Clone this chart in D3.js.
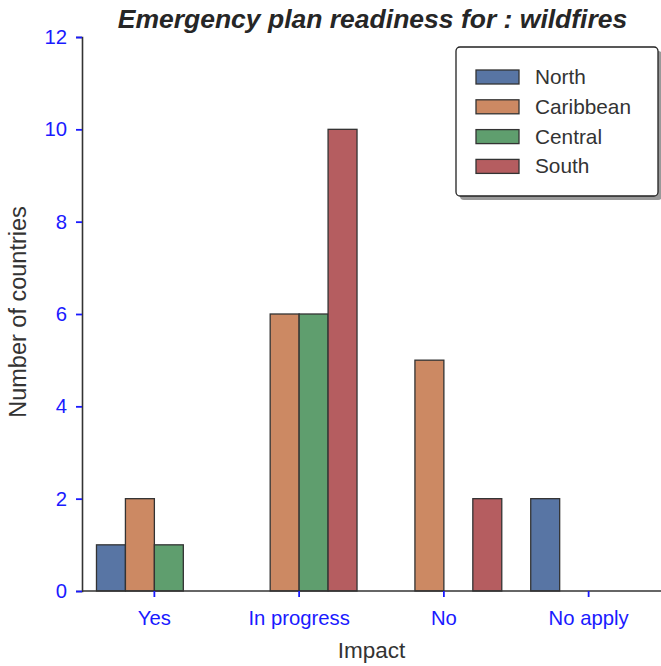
<!DOCTYPE html>
<html><head><meta charset="utf-8">
<script src="https://cdn.jsdelivr.net/npm/d3@7"></script>
<style>body{margin:0;background:#fff;} svg{font-family:"Liberation Sans",Arial,sans-serif;}</style>
</head><body>
<svg id="chart" width="661" height="666"></svg>
<script>
const categories = ["Yes", "In progress", "No", "No apply"];
const regions = ["North", "Caribbean", "Central", "South"];
const north = [1, 0, 0, 2];
const caribbean = [2, 6, 5, 0];
const central = [1, 6, 0, 0];
const south = [0, 10, 2, 0];
const yTicks = [0, 2, 4, 6, 8, 10, 12];
const colors = ["#5875A4", "#CC8963", "#5F9E6E", "#B55D60"];
const seriesValues = [north, caribbean, central, south];

const svg = d3.select("#chart");
const m = {left: 82, right: 661, top: 37, bottom: 591};

const x = d3.scaleBand().domain(categories).range([m.left, m.right]).padding(0);
const inner = d3.scaleBand().domain(regions).range([x.bandwidth()*0.1, x.bandwidth()*0.9]).padding(0);
const y = d3.scaleLinear().domain([0, 12]).range([m.bottom, m.top]);

// bars
regions.forEach((r, i) => {
  svg.append("g").selectAll("rect").data(categories.map((c, j) => ({c, v: seriesValues[i][j]})))
    .join("rect")
    .attr("x", d => x(d.c) + inner(r))
    .attr("y", d => y(d.v))
    .attr("width", inner.bandwidth())
    .attr("height", d => y(0) - y(d.v))
    .attr("fill", colors[i])
    .attr("stroke", d => d.v > 0 ? "#333" : "none")
    .attr("stroke-width", 1.3);
});

const tickFont = 20.3;
// y axis
const ya = svg.append("g").attr("transform", `translate(${m.left},0)`)
  .call(d3.axisLeft(y).tickValues(yTicks).tickSize(6).tickPadding(9));
ya.select(".domain").attr("stroke", "#333").attr("stroke-width", 1.6);
ya.selectAll(".tick line").attr("stroke", "#1a1aff").attr("stroke-width", 1.8);
ya.selectAll(".tick text").attr("fill", "#1a1aff").attr("font-size", tickFont).attr("font-family", "Liberation Sans, Arial, sans-serif");

// x axis
const xa = svg.append("g").attr("transform", `translate(0,${m.bottom})`)
  .call(d3.axisBottom(x).tickSize(6).tickPadding(14));
xa.select(".domain").attr("stroke", "#333").attr("stroke-width", 1.6).attr("d", `M${m.left},0H${m.right}`);
xa.selectAll(".tick line").attr("stroke", "#1a1aff").attr("stroke-width", 1.8);
xa.selectAll(".tick text").attr("fill", "#1a1aff").attr("font-size", tickFont).attr("font-family", "Liberation Sans, Arial, sans-serif");

// axis labels
svg.append("text").attr("x", (m.left + m.right) / 2).attr("y", 658).attr("text-anchor", "middle")
  .attr("font-size", 22.5).attr("fill", "#333").text("Impact");
svg.append("text").attr("transform", `translate(26,${(m.top + m.bottom) / 2 - 2}) rotate(-90)`).attr("text-anchor", "middle")
  .attr("font-size", 23.5).attr("fill", "#333").text("Number of countries");

// title
svg.append("text").attr("x", (m.left + m.right) / 2 + 1).attr("y", 28).attr("text-anchor", "middle")
  .attr("font-size", 26.5).attr("font-weight", "bold").attr("font-style", "italic").attr("fill", "#262626")
  .text("Emergency plan readiness for : wildfires");

// legend
const lg = svg.append("g");
lg.append("rect").attr("x", 460).attr("y", 51).attr("width", 202).attr("height", 149).attr("rx", 4)
  .attr("fill", "#555").attr("opacity", 0.6);
lg.append("rect").attr("x", 456).attr("y", 47).attr("width", 202).attr("height", 149).attr("rx", 4)
  .attr("fill", "#fff").attr("stroke", "#222").attr("stroke-width", 1.3);
regions.forEach((r, i) => {
  const yy = 77 + i * 29.8;
  lg.append("rect").attr("x", 476).attr("y", yy - 7).attr("width", 43).attr("height", 14)
    .attr("fill", colors[i]).attr("stroke", "#333").attr("stroke-width", 1.3);
  lg.append("text").attr("x", 535).attr("y", yy + 7).attr("font-size", 20.8).attr("fill", "#333").text(r);
});
</script>
</body></html>
